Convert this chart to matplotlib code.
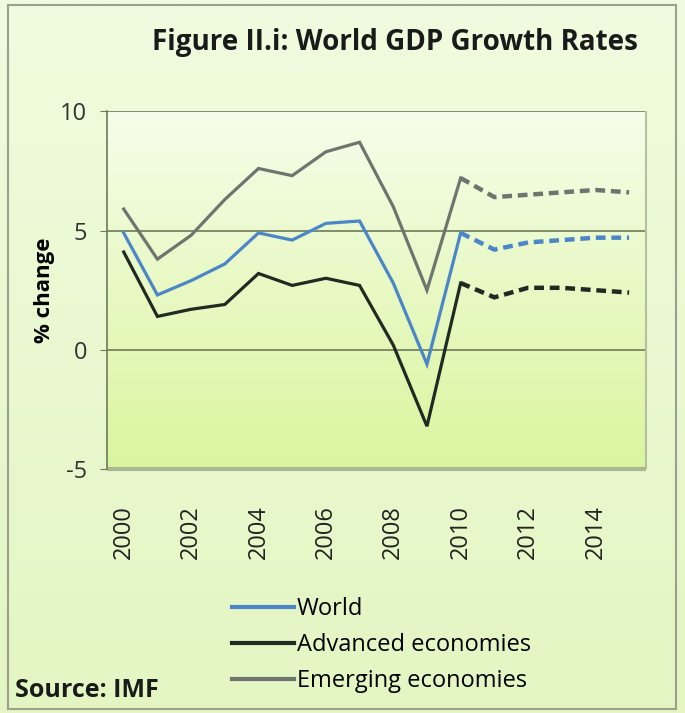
import numpy as np
import matplotlib.pyplot as plt
from matplotlib.lines import Line2D
from matplotlib.patches import Rectangle
from matplotlib.colors import LinearSegmentedColormap

years = list(range(2000, 2016))
world = [4.9, 2.3, 2.9, 3.6, 4.9, 4.6, 5.3, 5.4, 2.8, -0.6, 4.9, 4.2, 4.5, 4.6, 4.7, 4.7]
advanced = [4.1, 1.4, 1.7, 1.9, 3.2, 2.7, 3.0, 2.7, 0.2, -3.2, 2.8, 2.2, 2.6, 2.6, 2.5, 2.4]
emerging = [5.9, 3.8, 4.8, 6.3, 7.6, 7.3, 8.3, 8.7, 6.0, 2.5, 7.2, 6.4, 6.5, 6.6, 6.7, 6.6]
series_names = ["World", "Advanced economies", "Emerging economies"]
xtick_labels = [str(y) for y in range(2000, 2016, 2)]
yticks = [-5, 0, 5, 10]
proj_start = 2010

colors = {"World": "#4a86c8", "Advanced economies": "#1f2a22", "Emerging economies": "#6e746f"}

fig = plt.figure(figsize=(6.85, 7.13), dpi=100)
bg = fig.add_axes([0, 0, 1, 1], zorder=-10)
grad = np.linspace(0, 1, 256).reshape(-1, 1)
cm_fig = LinearSegmentedColormap.from_list("f", ["#f1fbdf", "#e3f6c2"])
bg.imshow(grad, aspect="auto", cmap=cm_fig, extent=[0, 1, 0, 1], origin="upper")
bg.add_patch(Rectangle((0.012, 0.006), 0.975, 0.987, fill=False, edgecolor="#9aa08f", linewidth=1.5))
bg.set_xlim(0, 1); bg.set_ylim(0, 1)
bg.axis("off")

ax = fig.add_axes([0.156, 0.342, 0.787, 0.502])
x = np.arange(len(years))
cm_ax = LinearSegmentedColormap.from_list("a", ["#f6fdea", "#daf59e"])
ax.imshow(grad, aspect="auto", cmap=cm_ax, extent=[-0.5, len(years) - 0.5, -5, 10], origin="upper", zorder=0)
ax.set_xlim(-0.5, len(years) - 0.5)
ax.set_ylim(-5, 10)

for y in [0, 5, 10]:
    ax.axhline(y, color="#6d7a5a", linewidth=1.2, zorder=1)

ip = years.index(proj_start)
for name, vals in zip(series_names, [world, advanced, emerging]):
    c = colors[name]
    ax.plot(x[:ip + 1], vals[:ip + 1], color=c, linewidth=2.3, zorder=3, solid_joinstyle="miter")
    ax.plot(x[ip:], vals[ip:], color=c, linewidth=3.2, linestyle=(0, (2.2, 1.3)), zorder=3)

ax.set_yticks(yticks)
ax.set_yticklabels([str(v) for v in yticks], fontsize=17, color="#333333", family="Open Sans")
ax.set_xticks(x[::2])
ax.set_xticklabels(xtick_labels, rotation=90, fontsize=17, color="#222222", family="Open Sans")
ax.tick_params(axis="x", length=0, pad=26)
ax.tick_params(axis="y", length=5, color="#6d7a5a", pad=9)
for s in ["top", "right", "bottom"]:
    ax.spines[s].set_visible(False)
ax.spines["left"].set_color("#6d7a5a")
ax.spines["left"].set_linewidth(1.2)
ax.add_patch(Rectangle((len(years) - 0.5, -5), 0.0, 15, fill=False, edgecolor="#b5c0a0", lw=1.5, clip_on=False))
ax.add_patch(Rectangle((-0.5, -5), len(years), 0, fill=False, edgecolor="#a8b890", lw=3, clip_on=False))

ax.set_ylabel("% change", fontsize=16, fontweight="bold", family="Open Sans", labelpad=4)

fig.text(0.577, 0.94, "Figure II.i: World GDP Growth Rates", fontsize=20, fontweight="bold",
         ha="center", va="center", family="Open Sans", color="#1a1a1a")

handles = [Line2D([], [], color=colors[n], linewidth=3) for n in series_names]
leg = fig.legend(handles, series_names, loc="center left", bbox_to_anchor=(0.339, 0.095),
                 frameon=False, handlelength=2.6, handletextpad=0.15, labelspacing=0.5,
                 borderpad=0, borderaxespad=0,
                 prop={"family": "Open Sans", "size": 17})
fig.text(0.022, 0.032, "Source: IMF", fontsize=18, fontweight="bold", family="Open Sans",
         ha="left", va="center", color="#1a1a1a")

fig.savefig("out.png", dpi=100)
